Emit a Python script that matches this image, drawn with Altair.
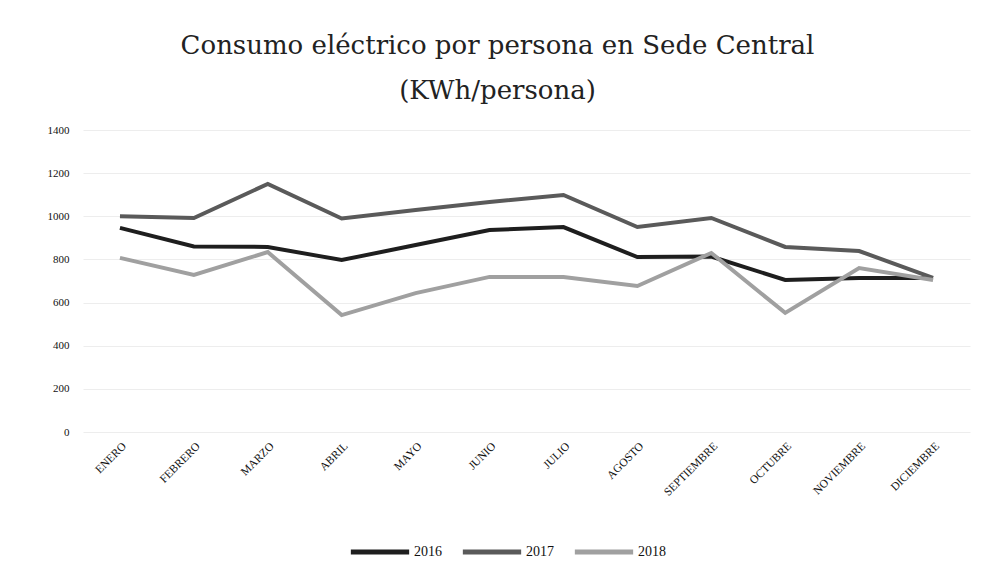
import altair as alt
import pandas as pd

months = ["ENERO", "FEBRERO", "MARZO", "ABRIL", "MAYO", "JUNIO", "JULIO",
          "AGOSTO", "SEPTIEMBRE", "OCTUBRE", "NOVIEMBRE", "DICIEMBRE"]
v2016 = [946, 860, 858, 797, 867, 936, 950, 811, 813, 705, 714, 714]
v2017 = [1000, 992, 1150, 990, 1029, 1066, 1099, 950, 992, 858, 839, 714]
v2018 = [807, 728, 834, 542, 644, 719, 719, 677, 830, 552, 760, 705]
years = ["2016", "2017", "2018"]
colors = ["#1e1e1e", "#5a5a5a", "#a0a0a0"]

rows = []
for yr, vals in zip(years, [v2016, v2017, v2018]):
    for m, v in zip(months, vals):
        rows.append({"Mes": m, "Año": yr, "Valor": v})
df = pd.DataFrame(rows)

chart = alt.Chart(df).mark_line(strokeWidth=4, strokeJoin="miter").encode(
    x=alt.X("Mes:N", sort=months, scale=alt.Scale(padding=0.5),
            axis=alt.Axis(title=None, labelAngle=-45, labelFontSize=11.5, labelColor="#111",
                          labelFont="Liberation Serif", ticks=False, domain=False,
                          labelPadding=8)),
    y=alt.Y("Valor:Q", scale=alt.Scale(domain=[0, 1400]),
            axis=alt.Axis(title=None, values=[0, 200, 400, 600, 800, 1000, 1200, 1400],
                          format="d",
                          labelFontSize=11, labelColor="#111", labelFont="Liberation Serif",
                          ticks=False, domain=False, labelPadding=14,
                          gridColor="#ededed", gridWidth=1)),
    color=alt.Color("Año:N", scale=alt.Scale(domain=years, range=colors),
                    legend=alt.Legend(title=None, orient="none", direction="horizontal",
                                      legendX=265, legendY=390, symbolType="stroke",
                                      symbolSize=3400, symbolStrokeWidth=5,
                                      labelFontSize=14, labelFont="Liberation Serif",
                                      labelColor="#111", columnPadding=10, labelOffset=2)),
).properties(
    width=887, height=302,
    background="white",
    title=alt.TitleParams(
        text=["Consumo eléctrico por persona en Sede Central", "(KWh/persona)"],
        fontSize=26, font="DejaVu Serif", fontWeight="normal", color="#222",
        lineHeight=45, anchor="middle", offset=20, dx=-29),
    autosize=alt.AutoSizeParams(type="none"),
    padding={"left": 75, "top": 122, "right": 16, "bottom": 142},
).configure_view(stroke="transparent", strokeWidth=0)

chart.save("out.html", embed_options={"renderer": "svg", "actions": False})
